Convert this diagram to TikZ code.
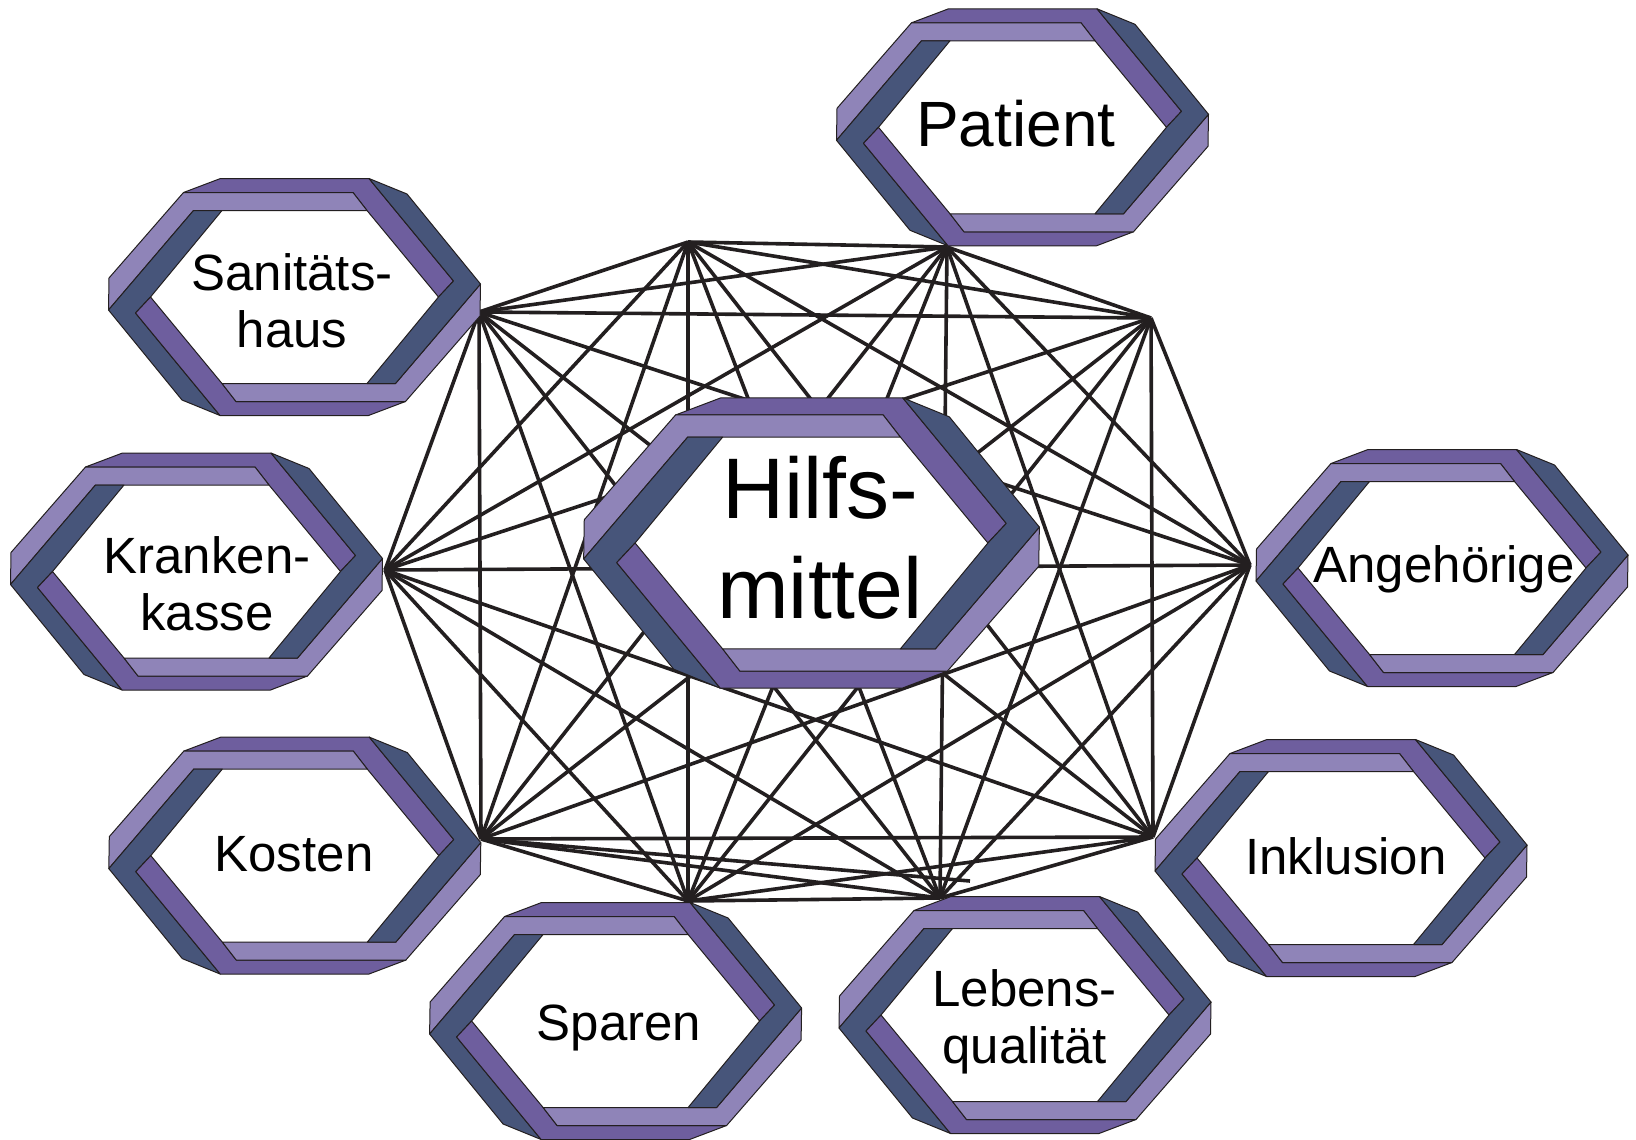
\documentclass[tikz,border=0pt]{standalone}
\usepackage{fontspec}
\setmainfont{Liberation Sans}
\definecolor{hlav}{RGB}{143,132,184}
\definecolor{hpur}{RGB}{110,94,158}
\definecolor{hsla}{RGB}{71,85,122}
\definecolor{ink}{RGB}{35,31,32}
\tikzset{
  edgeline/.style={draw=ink, line width=3.6pt},
  piece/.style={draw=ink, line width=1pt, line join=round},
  lbl/.style={font=\fontsize{51}{57}\selectfont, align=center, text=black, inner sep=0pt, anchor=base},
}
\newcommand\hexframe[3]{%
  \begin{scope}[shift={(#1,#2)}, scale=#3]
    \fill[white] (-72.5,-86.5) -- (72.5,-86.5) -- (144,0) -- (72.5,86.5) -- (-72.5,86.5) -- (-144,0) -- cycle;
    % purple, top-right
    \filldraw[piece, fill=hpur] (-74,-118.5) -- (74.5,-118.5) -- (159,-16) -- (144,0) -- (72.5,-86.5) -- (58.5,-104.5) -- (-111,-104.5) -- cycle;
    % lavender, top-left
    \filldraw[piece, fill=hlav] (-111,-104.5) -- (58.5,-104.5) -- (72.5,-86.5) -- (-101,-86.5) -- (-186,13) -- (-185.5,-19) -- cycle;
    % slate, left
    \filldraw[piece, fill=hsla] (-101,-86.5) -- (-72.5,-86.5) -- (-144,0) -- (-159,16) -- (-74.5,118.5) -- (-112.5,103) -- (-186,13) -- cycle;
    % purple, bottom-left
    \filldraw[piece, fill=hpur] (74,118.5) -- (-74.5,118.5) -- (-159,16) -- (-144,0) -- (-72.5,86.5) -- (-58.5,104.5) -- (111,104.5) -- cycle;
    % lavender, bottom-right
    \filldraw[piece, fill=hlav] (111,104.5) -- (-58.5,104.5) -- (-72.5,86.5) -- (101,86.5) -- (186,-13) -- (185.5,19) -- cycle;
    % slate, right
    \filldraw[piece, fill=hsla] (101,86.5) -- (72.5,86.5) -- (144,0) -- (159,-16) -- (74.5,-118.5) -- (112.5,-103) -- (186,-13) -- cycle;
  \end{scope}}
\begin{document}
\begin{tikzpicture}[x=1pt, y=-1pt]
\useasboundingbox (0,0) rectangle (1636,1140);
% network vertices
\coordinate (v1) at (479,312);
\coordinate (v2) at (688,242);
\coordinate (v3) at (947,247);
\coordinate (v4) at (1151,318);
\coordinate (v5) at (1250,565);
\coordinate (v6) at (1153,837);
\coordinate (v7) at (940,898);
\coordinate (v8) at (688,901);
\coordinate (v9) at (481,839);
\coordinate (v10) at (385,570);
\coordinate (stray) at (970,881);
\foreach \i in {1,...,10}{
  \foreach \j in {1,...,10}{
    \ifnum\i<\j \draw[edgeline] (v\i) -- (v\j); \fi
  }
}
\draw[edgeline] (v9) -- (stray);
% frames
\hexframe{1022.5}{127.3}{1}
\hexframe{294.5}{297}{1}
\hexframe{196.5}{571.5}{1}
\hexframe{294.8}{855.6}{1}
\hexframe{615.6}{1021}{1}
\hexframe{1025}{1015}{1}
\hexframe{1341}{858}{1}
\hexframe{1442}{568}{1}
\hexframe{811.5}{543}{1.225}
% labels (anchor=base sits on the last line's baseline)
\node[lbl, font=\fontsize{64}{70}\selectfont] (patient) at (1015.8,146.7) {Patient};
\node[lbl] (sanitaet) at (292,347.5) {Sanitäts-\\haus};
\node[lbl] (kasse) at (207,630) {Kranken-\\kasse};
\node[lbl] (kosten) at (294,871) {Kosten};
\node[lbl] (sparen) at (619,1040) {Sparen};
\node[lbl] (lebens) at (1024.6,1063) {Lebens-\\qualität};
\node[lbl] (inklusion) at (1346,874) {Inklusion};
\node[lbl] (angehoerige) at (1444,582) {Angehörige};
\node[lbl, font=\fontsize{86}{100}\selectfont] (hilfsmittel) at (820,618.3) {Hilfs-\\mittel};
\end{tikzpicture}
\end{document}
